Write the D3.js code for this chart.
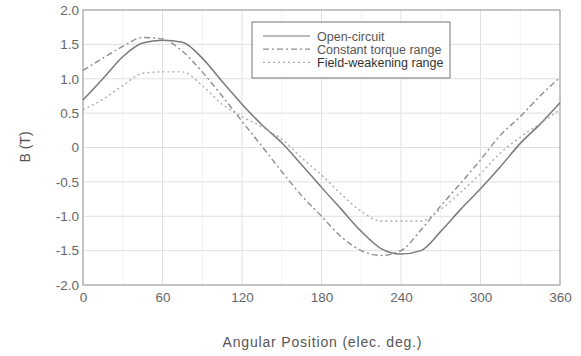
<!DOCTYPE html>
<html>
<head>
<meta charset="utf-8">
<script src="https://cdn.jsdelivr.net/npm/d3@7"></script>
<style>
  body { margin: 0; background: #fff; }
  text { font-family: "Liberation Sans", Arial, sans-serif; fill: #555; }
</style>
</head>
<body>
<div id="chart"></div>
<script>
// chart size
const width = 581;
const height = 356;
const margin = {top: 10, right: 21, bottom: 71, left: 83};

// data (angle in elec. deg, B in T)
const angles = [0, 15, 30, 45, 60, 75, 90, 105, 120, 135, 150, 165, 180,
                195, 210, 225, 240, 255, 270, 285, 300, 315, 330, 345, 360];
const openCircuit = [0.69, 1.0, 1.32, 1.52, 1.56, 1.53, 1.3, 0.96, 0.63, 0.33, 0.07, -0.25, -0.58,
                     -0.9, -1.22, -1.47, -1.55, -1.5, -1.22, -0.9, -0.6, -0.28, 0.06, 0.34, 0.65];
const constantTorque = [1.12, 1.3, 1.47, 1.6, 1.58, 1.4, 1.1, 0.75, 0.38, 0.02, -0.35, -0.7, -1.0,
                        -1.3, -1.5, -1.57, -1.5, -1.2, -0.85, -0.52, -0.18, 0.18, 0.45, 0.75, 1.02];
const fieldWeakening = [0.55, 0.7, 0.9, 1.08, 1.1, 1.1, 0.9, 0.63, 0.45, 0.3, 0.12, -0.15, -0.4,
                        -0.68, -0.93, -1.07, -1.07, -1.07, -0.9, -0.65, -0.38, -0.08, 0.15, 0.35, 0.55];

const xTicks = [0, 60, 120, 180, 240, 300, 360];
const xMinor = [30, 90, 150, 210, 270, 330];
const yTicks = [-2, -1.5, -1, -0.5, 0, 0.5, 1, 1.5, 2];
const yTickLabels = ["-2.0", "-1.5", "-1.0", "-0.5", "0", "0.5", "1.0", "1.5", "2.0"];
const seriesNames = ["Open-circuit", "Constant torque range", "Field-weakening range"];

const series = [
  {name: seriesNames[0], values: openCircuit, color: "#7a7a7a", dash: null, w: 1.5},
  {name: seriesNames[1], values: constantTorque, color: "#8e8e8e", dash: "6,3,2,3", w: 1.4},
  {name: seriesNames[2], values: fieldWeakening, color: "#ababab", dash: "2,3", w: 1.4}
];

const svg = d3.select("#chart").append("svg")
  .attr("width", width)
  .attr("height", height);

const x = d3.scaleLinear().domain([0, 360]).range([margin.left, width - margin.right]);
const y = d3.scaleLinear().domain([-2, 2]).range([height - margin.bottom, margin.top]);

// grid
const grid = svg.append("g");
grid.selectAll(".vminor").data(xMinor).enter().append("line")
  .attr("x1", d => x(d)).attr("x2", d => x(d))
  .attr("y1", y(-2)).attr("y2", y(2))
  .attr("stroke", "#f2f2f2").attr("stroke-width", 1);
grid.selectAll(".vgrid").data(xTicks).enter().append("line")
  .attr("x1", d => x(d)).attr("x2", d => x(d))
  .attr("y1", y(-2)).attr("y2", y(2))
  .attr("stroke", "#e0e0e0").attr("stroke-width", 1);
grid.selectAll(".hgrid").data(yTicks).enter().append("line")
  .attr("x1", x(0)).attr("x2", x(360))
  .attr("y1", d => y(d)).attr("y2", d => y(d))
  .attr("stroke", "#e0e0e0").attr("stroke-width", 1);

// frame
svg.append("rect")
  .attr("x", x(0)).attr("y", y(2))
  .attr("width", x(360) - x(0)).attr("height", y(-2) - y(2))
  .attr("fill", "none").attr("stroke", "#a8a8a8").attr("stroke-width", 1.2);

// axes
const xAxis = d3.axisBottom(x).tickValues(xTicks).tickSize(0).tickPadding(7);
const gx = svg.append("g").attr("transform", `translate(0,${y(-2)})`).call(xAxis);
gx.select(".domain").remove();
gx.selectAll("text").attr("font-size", 13.5).style("fill", "#666");

const yAxis = d3.axisLeft(y).tickValues(yTicks).tickSize(0).tickPadding(4)
  .tickFormat((d, i) => yTickLabels[i]);
const gy = svg.append("g").attr("transform", `translate(${x(0)},0)`).call(yAxis);
gy.select(".domain").remove();
gy.selectAll("text").attr("font-size", 13.5).style("fill", "#666");

// axis titles
svg.append("text")
  .attr("x", 322).attr("y", 347)
  .attr("text-anchor", "middle")
  .attr("font-size", 14)
  .style("fill", "#555")
  .attr("textLength", 199)
  .text("Angular Position (elec. deg.)");
svg.append("text")
  .attr("transform", "translate(30,147) rotate(-90)")
  .attr("text-anchor", "middle")
  .attr("font-size", 14)
  .style("fill", "#555")
  .text("B (T)");

// curves
const line = d3.line()
  .x((d, i) => x(angles[i]))
  .y(d => y(d))
  .curve(d3.curveMonotoneX);

svg.selectAll(".curve").data(series).enter().append("path")
  .attr("d", d => line(d.values))
  .attr("fill", "none")
  .attr("stroke", d => d.color)
  .attr("stroke-width", d => d.w)
  .attr("stroke-dasharray", d => d.dash);

// legend
const legend = svg.append("g");
legend.append("rect")
  .attr("x", 252).attr("y", 22).attr("width", 198).attr("height", 56)
  .attr("fill", "#fff").attr("stroke", "#8a8a8a").attr("stroke-width", 1.2);
series.forEach((s, i) => {
  const ly = 36 + i * 13.2;
  legend.append("line")
    .attr("x1", 263).attr("x2", 310)
    .attr("y1", ly).attr("y2", ly)
    .attr("stroke", s.color).attr("stroke-width", 1.2)
    .attr("stroke-dasharray", s.dash);
  legend.append("text")
    .attr("x", 317).attr("y", ly + 4.5)
    .attr("font-size", 12.5)
    .style("fill", i === 2 ? "#333" : "#555")
    .text(s.name);
});
</script>
</body>
</html>
